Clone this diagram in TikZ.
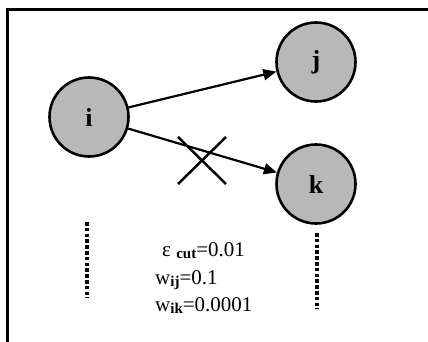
\documentclass[tikz,border=0pt]{standalone}
\usepackage{fontspec}
\setmainfont{Liberation Serif}
\usepackage{tikz}
\usetikzlibrary{arrows.meta, positioning, calc}
\definecolor{unit}{gray}{0.72}
\newcommand{\lowidx}[1]{\raisebox{-0.3ex}{\fontsize{15}{15}\selectfont\bfseries #1}}

\begin{document}
\begin{tikzpicture}[x=1pt, y=-1pt,
  neuron/.style={circle, draw, line width=2.6pt, fill=unit, minimum size=79pt,
    inner sep=0pt, font=\fontsize{26}{26}\selectfont\bfseries},
  link/.style={line width=2.2pt, -{Triangle[length=13pt,width=11pt]}},
  param/.style={anchor=base west, inner sep=0pt, font=\fontsize{21}{21}\selectfont}]
  \clip (0,0) rectangle (428,342);
  % frame
  \draw[line width=3pt] (7,350) -- (7,10) -- (440,10);
  % units
  \node[neuron] (i) at (89,117) {i};
  \node[neuron] (j) at (316,62) {j};
  \node[neuron] (k) at (316,184) {k};
  \draw[link] (i) -- (j);
  \draw[link] (i) -- (k);
  % cut connection
  \coordinate (cut) at (202,160);
  \draw[line width=2.5pt] ($(cut)+(-24,-23)$) -- ($(cut)+(24,24)$);
  \draw[line width=2.5pt] ($(cut)+(-24,24)$) -- ($(cut)+(24,-23)$);
  % more units
  \draw[line width=3.5pt, dash pattern=on 3.5pt off 2.3pt] (87,222) -- (87,298);
  \draw[line width=3.5pt, dash pattern=on 3.5pt off 2.3pt] (317,233) -- (317,309);
  \node[param] (eps) at (162,256) {ε \lowidx{cut}=0.01};
  \node[param] (wij) at (155,284) {w\lowidx{ij}=0.1};
  \node[param] (wik) at (155,311) {w\lowidx{ik}=0.0001};
\end{tikzpicture}
\end{document}
